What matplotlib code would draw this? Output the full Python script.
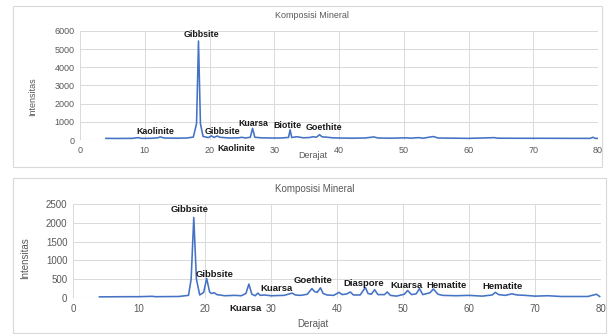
import matplotlib
matplotlib.use("Agg")
import matplotlib.pyplot as plt
from matplotlib.patches import Rectangle

plt.rcParams['font.family'] = ['Liberation Sans', 'DejaVu Sans']

# ---- Data ----
top_x = [4, 6, 8, 9, 9.5, 11, 12, 12.4, 13, 15, 16.5, 17.5, 18.0, 18.3, 18.6, 19.0, 19.8, 20.3, 20.7,
         21.2, 21.6, 23, 24.5, 25, 25.5, 26.3, 26.65, 27.0, 28, 29.5, 31, 32.2, 32.45, 32.7, 33.5,
         34.5, 35.5, 36, 36.5, 37.0, 37.4, 38, 39, 40, 42, 44, 45.4, 46, 48, 50.5, 51, 52.3, 53,
         54.2, 54.6, 55.3, 58, 60, 64, 64.5, 68, 72, 76, 78.8, 79.2, 79.6, 80]
top_y = [90, 85, 90, 130, 90, 95, 120, 170, 110, 100, 110, 160, 900, 5450, 900, 200, 130, 230, 140,
         220, 150, 110, 120, 150, 110, 150, 640, 150, 120, 110, 110, 140, 560, 140, 180,
         120, 140, 180, 150, 290, 170, 160, 120, 110, 100, 110, 170, 110, 100, 120, 100, 130, 100,
         170, 190, 110, 100, 90, 130, 100, 95, 95, 90, 90, 150, 90, 85]

bot_x = [4, 8, 10, 12, 12.5, 16, 17.5, 17.9, 18.3, 18.7, 19.2, 19.8, 20.25, 20.7, 21.0, 21.4, 21.8,
         23, 24.5, 25.5, 26.2, 26.65, 27.1, 27.6, 28.0, 28.4, 29, 30, 32, 32.8, 33.2, 33.7, 34.5,
         35.5, 36.2, 36.6, 37.0, 37.5, 37.9, 38.5, 39.5, 40.3, 40.8, 41.5, 42.0, 42.5, 43.5, 44.3,
         44.7, 45.2, 45.7, 46.2, 47.2, 47.6, 48.1, 49, 50.2, 50.7, 51.3, 52.0, 52.5, 53, 54.1, 54.6,
         55.3, 56, 58, 60, 62, 63.5, 64, 64.5, 65.5, 66.5, 67.3, 68.5, 70, 72, 74, 76, 78, 79.3, 79.8]
bot_y = [30, 35, 35, 45, 35, 40, 70, 500, 2140, 500, 80, 150, 520, 160, 120, 140, 90,
         60, 70, 60, 120, 370, 100, 60, 130, 70, 80, 60, 70, 110, 130, 80, 70,
         100, 250, 170, 150, 270, 120, 80, 70, 150, 90, 110, 160, 80, 80, 280,
         120, 100, 220, 90, 90, 160, 70, 50, 100, 200, 90, 110, 250, 90, 140, 240,
         100, 70, 60, 70, 50, 80, 150, 90, 70, 110, 80, 70, 50, 60, 40, 40, 40, 100, 40]

top_labels = ["Gibbsite", "Kaolinite", "Gibbsite", "Kaolinite", "Kuarsa", "Biotite", "Goethite"]
top_lx = [18.8, 11.6, 22.0, 24.2, 26.8, 32.0, 37.6]
top_ly = [5780, 457, 495, -495, 920, 825, 680]

bot_labels = ["Gibbsite", "Gibbsite", "Kuarsa", "Kuarsa", "Goethite", "Diaspore", "Kuarsa",
              "Hematite", "Hematite"]
bot_lx = [17.6, 21.5, 26.1, 30.9, 36.3, 44.0, 50.5, 56.6, 65.0]
bot_ly = [2360, 612, -275, 258, 460, 390, 327, 345, 300]

x_ticks = [0, 10, 20, 30, 40, 50, 60, 70, 80]
top_yticks = [0, 1000, 2000, 3000, 4000, 5000, 6000]
bot_yticks = [0, 500, 1000, 1500, 2000, 2500]

LINE = "#4472C4"
GRID = "#d9d9d9"
TXT = "#595959"

fig = plt.figure(figsize=(6.14, 3.34), dpi=100)

# panel borders
fig.add_artist(Rectangle((13/614, 1-167/334), 589/614, 161/334, transform=fig.transFigure,
                         fill=False, edgecolor=GRID, linewidth=0.8))
fig.add_artist(Rectangle((13/614, 1-333/334), 593/614, 155/334, transform=fig.transFigure,
                         fill=False, edgecolor=GRID, linewidth=0.8))


def setup(ax, x, y, yticks, labels, lx, ly, fs_lab, tsize):
    ax.plot(x, y, color=LINE, linewidth=1.15)
    ax.set_xlim(0, 80)
    ax.set_ylim(yticks[0], yticks[-1])
    ax.set_xticks(x_ticks)
    ax.set_yticks(yticks)
    ax.grid(True, color=GRID, linewidth=0.7)
    ax.set_axisbelow(True)
    for s in ax.spines.values():
        s.set_visible(False)
    ax.tick_params(length=0, labelsize=tsize, colors=TXT, pad=4)
    for t, xx, yy in zip(labels, lx, ly):
        ax.text(xx, yy, t, ha='center', va='center', fontsize=fs_lab, fontweight='bold',
                color='#1a1a1a', clip_on=False)


ax1 = fig.add_axes([80/614, 1-140/334, 518/614, 109/334])
setup(ax1, top_x, top_y, top_yticks, top_labels, top_lx, top_ly, 6.4, 6.5)
ax1.axhline(0, color=GRID, linewidth=0.8)
fig.text(312/614, 1-16/334, "Komposisi Mineral", ha='center', va='center', fontsize=6.5, color=TXT)
fig.text(313/614, 1-156/334, "Derajat", ha='center', va='center', fontsize=6.5, color=TXT)
fig.text(33/614, 1-97/334, "Intensitas", ha='center', va='center', fontsize=6.5, color=TXT,
         rotation=90)

ax2 = fig.add_axes([73/614, 1-298/334, 528/614, 94/334])
setup(ax2, bot_x, bot_y, bot_yticks, bot_labels, bot_lx, bot_ly, 6.8, 7)
ax2.axhline(0, color=GRID, linewidth=0.8)
fig.text(315/614, 1-189/334, "Komposisi Mineral", ha='center', va='center', fontsize=7, color=TXT)
fig.text(313/614, 1-324/334, "Derajat", ha='center', va='center', fontsize=7, color=TXT)
fig.text(25/614, 1-258/334, "Intensitas", ha='center', va='center', fontsize=7, color=TXT,
         rotation=90)

fig.savefig("out.png", dpi=100, facecolor='white')
